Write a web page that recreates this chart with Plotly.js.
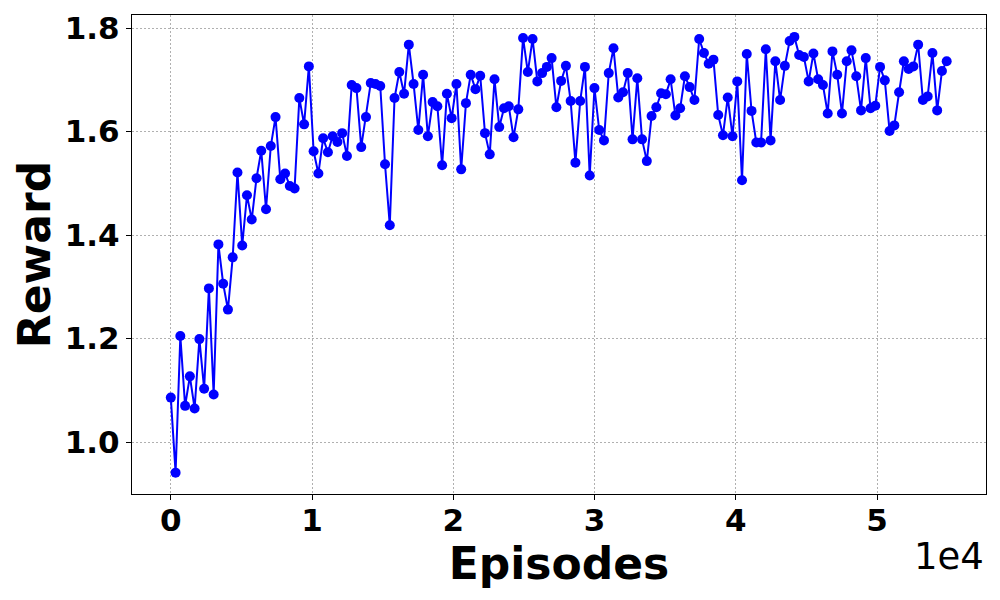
<!DOCTYPE html>
<html><head><meta charset="utf-8">
<script src="https://cdn.plot.ly/plotly-3.0.1.min.js"></script>
<style>html,body{margin:0;padding:0;background:#fff}#chart{width:1000px;height:600px}</style>
</head><body><div id="chart"></div>
<script>
const rewards = [
  1.086, 0.941, 1.205, 1.070, 1.127, 1.065, 1.199, 1.103, 1.297, 1.092,
  1.382, 1.306, 1.256, 1.357, 1.521, 1.380, 1.477, 1.430, 1.510, 1.563,
  1.450, 1.572, 1.628, 1.508, 1.519, 1.495, 1.490, 1.665, 1.614, 1.726,
  1.562, 1.519, 1.587, 1.560, 1.591, 1.580, 1.597, 1.553, 1.690, 1.684,
  1.570, 1.628, 1.694, 1.692, 1.688, 1.537, 1.419, 1.665, 1.715, 1.673,
  1.768, 1.692, 1.603, 1.710, 1.591, 1.657, 1.649, 1.535, 1.673, 1.626,
  1.692, 1.527, 1.655, 1.710, 1.682, 1.708, 1.597, 1.556, 1.701, 1.609,
  1.645, 1.649, 1.589, 1.643, 1.781, 1.715, 1.779, 1.697, 1.713, 1.725,
  1.742, 1.647, 1.698, 1.727, 1.659, 1.540, 1.659, 1.725, 1.515, 1.684,
  1.603, 1.583, 1.713, 1.761, 1.666, 1.676, 1.713, 1.585, 1.703, 1.585,
  1.543, 1.630, 1.647, 1.674, 1.672, 1.701, 1.631, 1.645, 1.707, 1.686,
  1.661, 1.779, 1.752, 1.731, 1.739, 1.632, 1.593, 1.666, 1.591, 1.697,
  1.506, 1.750, 1.640, 1.579, 1.579, 1.759, 1.583, 1.736, 1.661, 1.727,
  1.775, 1.783, 1.748, 1.744, 1.697, 1.751, 1.701, 1.690, 1.635, 1.755,
  1.710, 1.635, 1.736, 1.757, 1.707, 1.641, 1.742, 1.645, 1.650, 1.725,
  1.699, 1.601, 1.612, 1.676, 1.736, 1.721, 1.726, 1.768, 1.661, 1.668,
  1.752, 1.641, 1.717, 1.736
];
const episodeStep = 337;
const episodes = rewards.map((_, i) => i * episodeStep);
const xTickVals = [0, 10000, 20000, 30000, 40000, 50000];
const xTickText = ['0', '1', '2', '3', '4', '5'];
const yTickVals = [1.0, 1.2, 1.4, 1.6, 1.8];
const yTickText = ['1.0', '1.2', '1.4', '1.6', '1.8'];
const xOffsetLabel = '1e4';
const xTitle = 'Episodes';
const yTitle = 'Reward';

const FONT = 'DejaVu Sans, Liberation Sans, sans-serif';
const tickFont = {family: FONT, size: 31, weight: 'bold', color: '#000'};
const titleFont = {family: FONT, size: 44, weight: 'bold', color: '#000'};

const trace = {
  x: episodes, y: rewards, type: 'scatter', mode: 'lines+markers',
  line: {color: '#0000ff', width: 2},
  marker: {color: '#0000ff', size: 10},
  hoverinfo: 'x+y'
};

const axisCommon = {
  showline: true, mirror: true, linecolor: '#000', linewidth: 1.2,
  ticks: 'outside', ticklen: 5, tickwidth: 1.2, tickcolor: '#000',
  showgrid: true, gridcolor: '#b0b0b0', gridwidth: 0.7, griddash: '2px,2px',
  zeroline: false, tickfont: tickFont
};

const layout = {
  width: 1000, height: 600,
  margin: {l: 132, r: 14, t: 15, b: 106},
  paper_bgcolor: '#fff', plot_bgcolor: '#fff',
  showlegend: false,
  xaxis: Object.assign({}, axisCommon, {
    range: [-2748, 57713], tickmode: 'array', tickvals: xTickVals, ticktext: xTickText,
    ticklabelstandoff: -6,
    title: {text: xTitle, font: titleFont, standoff: 2}
  }),
  yaxis: Object.assign({}, axisCommon, {
    range: [0.8997, 1.8253], tickmode: 'array', tickvals: yTickVals, ticktext: yTickText,
    title: {text: yTitle, font: titleFont, standoff: 0}
  }),
  annotations: [{
    text: xOffsetLabel, xref: 'paper', yref: 'paper', x: 1.0, y: -0.13,
    xanchor: 'right', yanchor: 'middle', showarrow: false,
    font: {family: FONT, size: 37, color: '#000'}
  }]
};

Plotly.newPlot('chart', [trace], layout, {displayModeBar: false});
</script>
</body></html>
